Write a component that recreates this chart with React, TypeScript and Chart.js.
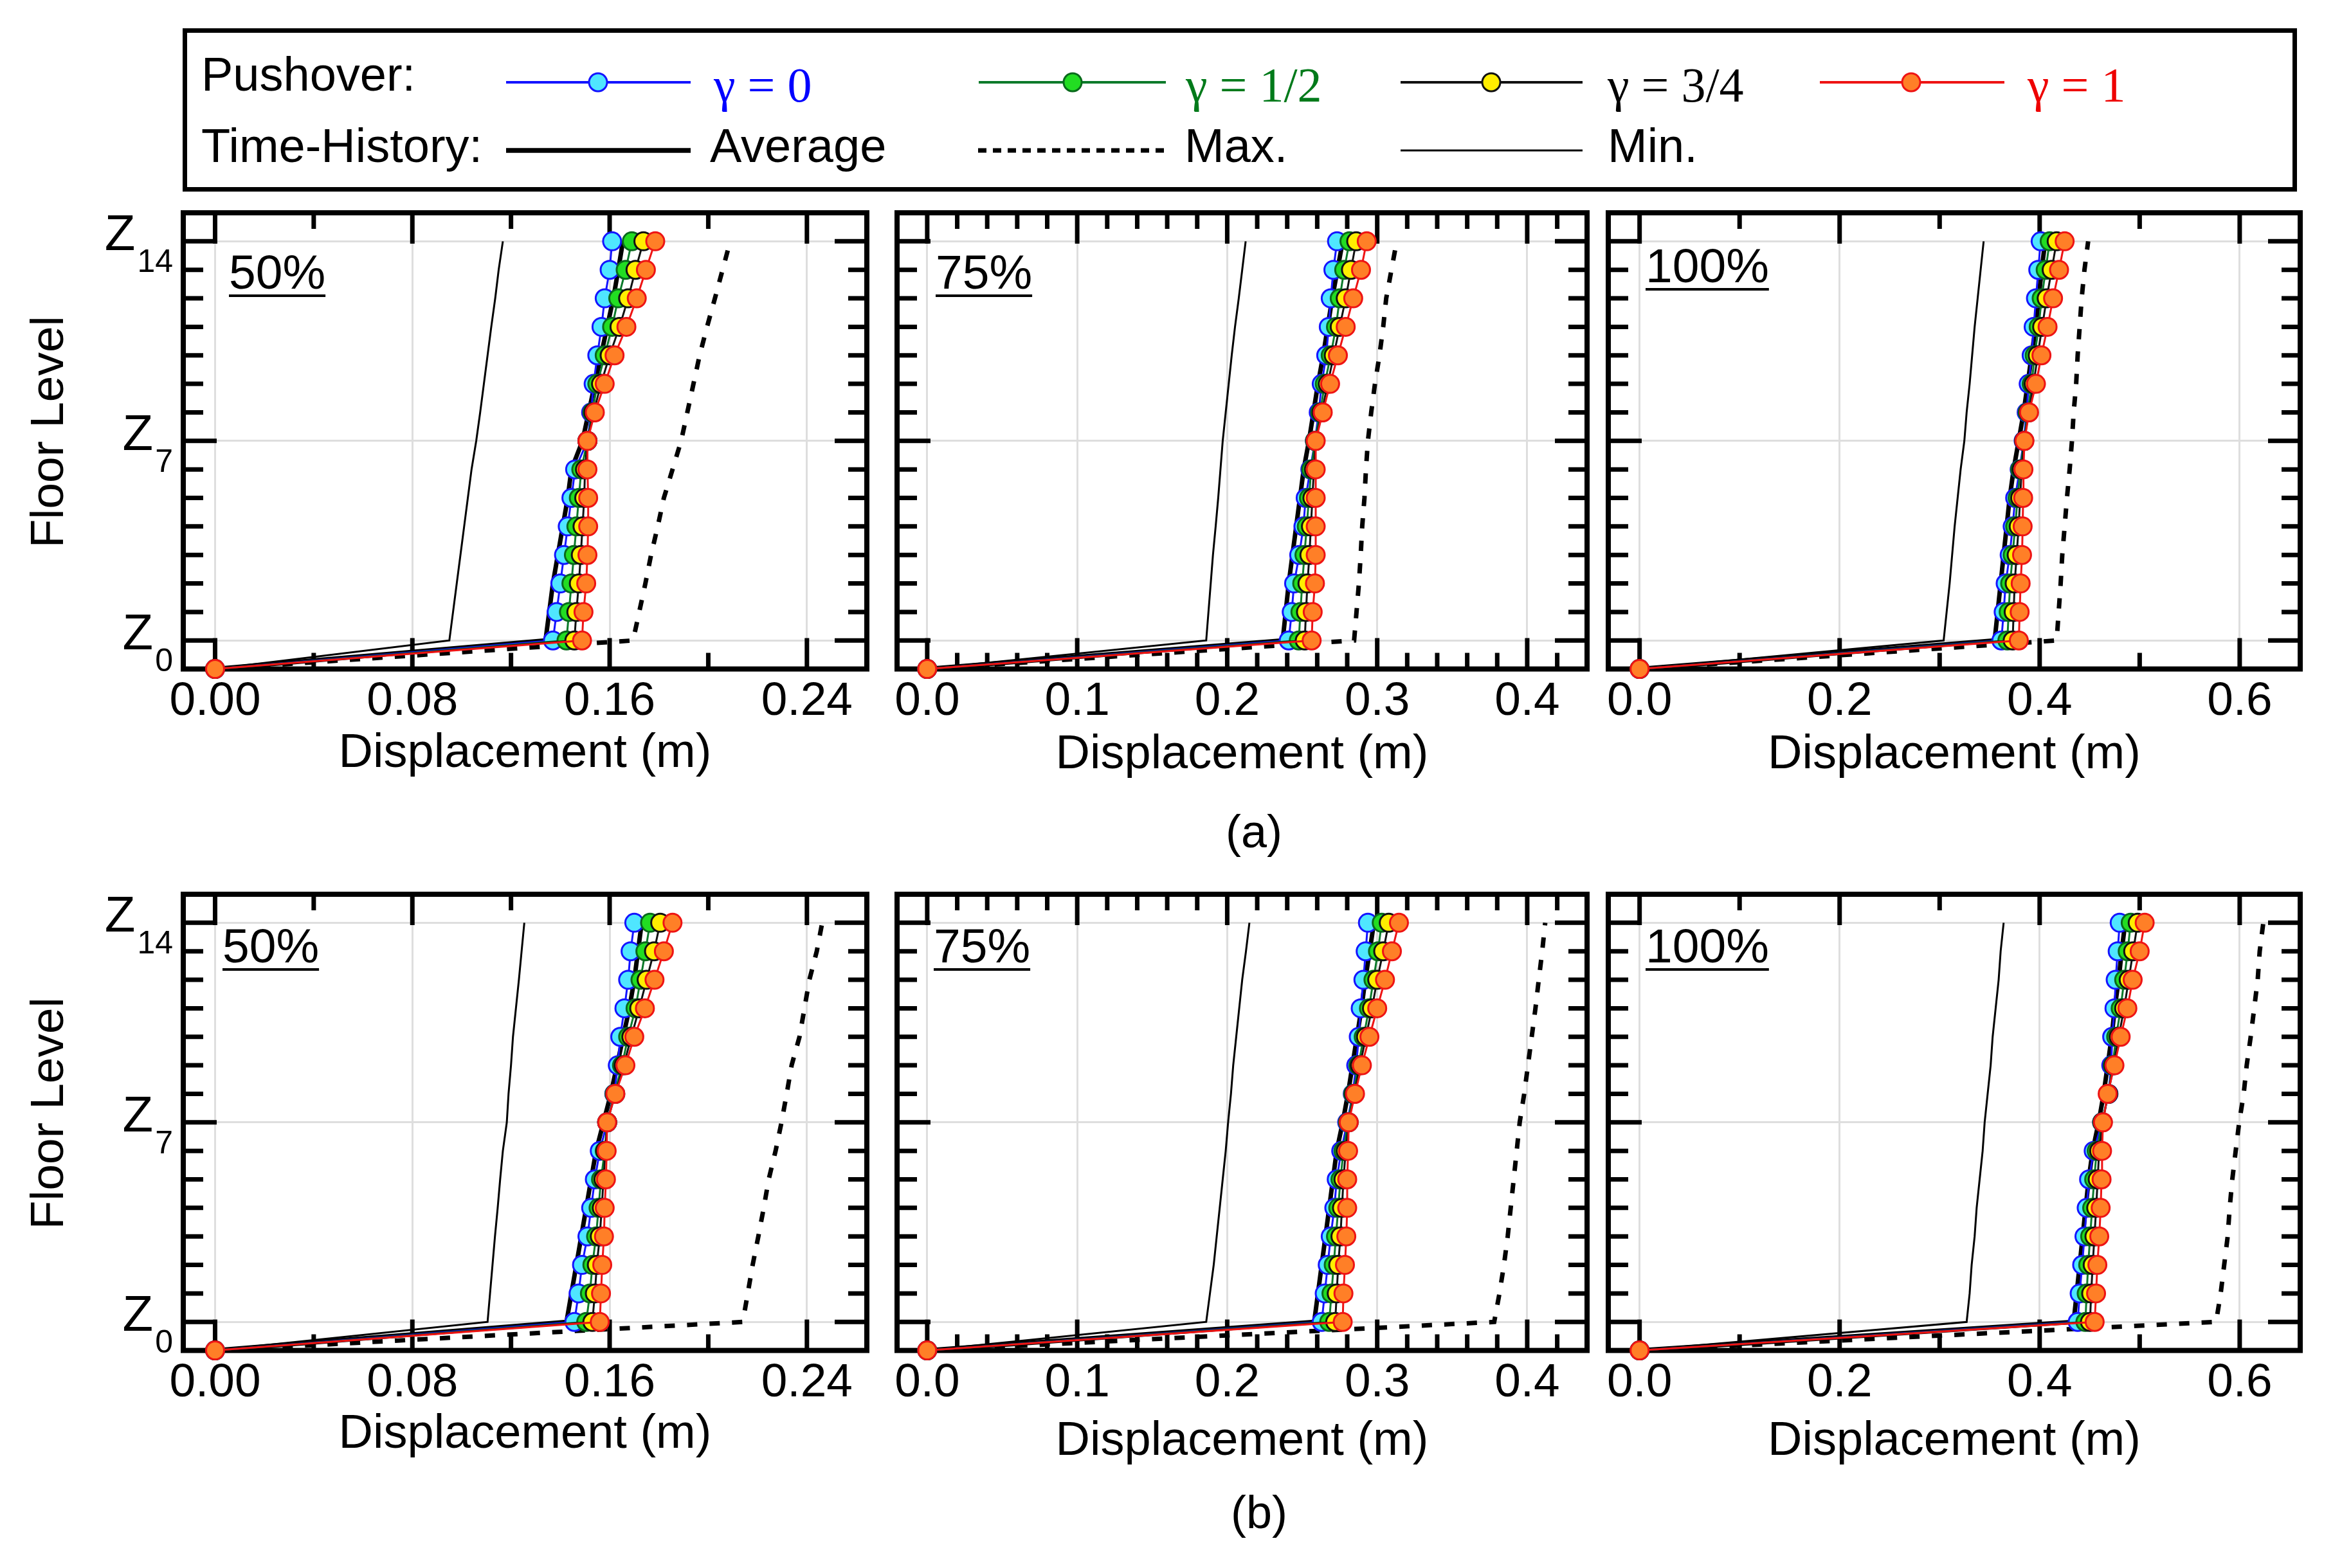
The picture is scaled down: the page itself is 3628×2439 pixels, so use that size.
import React, { useEffect, useRef } from "react";
import { Chart, registerables } from "chart.js";

Chart.register(...registerables);

const SANS = "'Liberation Sans', Arial, Helvetica, sans-serif";
const SERIF = "'Liberation Serif', 'Times New Roman', serif";

// ---------- axes / categories ----------
const FLOORS = [-1, 0, 1, 2, 3, 4, 5, 6, 7, 8, 9, 10, 11, 12, 13, 14];
const Y_MAJOR = [0, 7, 14];
const Y_SUBS = ["0", "7", "14"];

const X_MAJOR_50 = [0, 0.08, 0.16, 0.24];
const X_LABELS_50 = ["0.00", "0.08", "0.16", "0.24"];
const X_MINOR_50 = [0, 0.04, 0.08, 0.12, 0.16, 0.2, 0.24];
const X_RANGE_50 = [-0.0129, 0.2643];

const X_MAJOR_75 = [0, 0.1, 0.2, 0.3, 0.4];
const X_LABELS_75 = ["0.0", "0.1", "0.2", "0.3", "0.4"];
const X_MINOR_75 = [0, 0.02, 0.04, 0.06, 0.08, 0.1, 0.12, 0.14, 0.16, 0.18, 0.2, 0.22, 0.24, 0.26, 0.28, 0.3, 0.32, 0.34, 0.36, 0.38, 0.4, 0.42];
const X_RANGE_75 = [-0.0201, 0.4399];

const X_MAJOR_100 = [0, 0.2, 0.4, 0.6];
const X_LABELS_100 = ["0.0", "0.2", "0.4", "0.6"];
const X_MINOR_100 = [0, 0.1, 0.2, 0.3, 0.4, 0.5, 0.6];
const X_RANGE_100 = [-0.0313, 0.6605];

// ---------- (a) 50% ----------
const A50_MIN = [0, 0.095, 0.0965, 0.098, 0.0995, 0.101, 0.1025, 0.104, 0.1059, 0.1075, 0.109, 0.1105, 0.112, 0.1136, 0.115, 0.1167];
const A50_MAX = [0, 0.1695, 0.172, 0.1745, 0.1768, 0.1795, 0.182, 0.1855, 0.189, 0.1915, 0.194, 0.1965, 0.1995, 0.2027, 0.2058, 0.2089];
const A50_AVG = [0, 0.134, 0.1355, 0.137, 0.139, 0.141, 0.143, 0.1445, 0.149, 0.1515, 0.154, 0.1565, 0.159, 0.1615, 0.1635, 0.1654];
const A50_G0 = [0, 0.137, 0.1385, 0.14, 0.1415, 0.143, 0.1445, 0.146, 0.151, 0.1525, 0.1535, 0.155, 0.1567, 0.158, 0.16, 0.161];
const A50_G12 = [0, 0.1425, 0.1435, 0.1445, 0.1455, 0.1465, 0.1475, 0.1485, 0.151, 0.153, 0.155, 0.158, 0.161, 0.1635, 0.1665, 0.169];
const A50_G34 = [0, 0.1457, 0.1465, 0.1475, 0.1483, 0.149, 0.1497, 0.15, 0.151, 0.1535, 0.1565, 0.16, 0.164, 0.1675, 0.1705, 0.1737];
const A50_G1 = [0, 0.1488, 0.1494, 0.1505, 0.151, 0.1513, 0.1513, 0.151, 0.151, 0.154, 0.158, 0.162, 0.1668, 0.171, 0.1747, 0.1785];

// ---------- (a) 75% ----------
const A75_MIN = [0, 0.186, 0.1875, 0.189, 0.1905, 0.1923, 0.194, 0.1955, 0.197, 0.199, 0.201, 0.203, 0.2052, 0.2077, 0.21, 0.2123];
const A75_MAX = [0, 0.2846, 0.2862, 0.2878, 0.289, 0.29, 0.2915, 0.2925, 0.2938, 0.296, 0.2985, 0.3015, 0.304, 0.306, 0.3095, 0.313];
const A75_AVG = [0, 0.237, 0.239, 0.241, 0.2435, 0.246, 0.2485, 0.251, 0.2545, 0.2575, 0.2605, 0.264, 0.267, 0.27, 0.2735, 0.277];
const A75_G0 = [0, 0.241, 0.243, 0.2446, 0.248, 0.2508, 0.2523, 0.2554, 0.2585, 0.261, 0.263, 0.266, 0.2677, 0.269, 0.2708, 0.2732];
const A75_G12 = [0, 0.2477, 0.2488, 0.25, 0.2515, 0.253, 0.2545, 0.256, 0.2585, 0.262, 0.265, 0.269, 0.2725, 0.275, 0.278, 0.2815];
const A75_G34 = [0, 0.2517, 0.2525, 0.2535, 0.2548, 0.2558, 0.2568, 0.2578, 0.2588, 0.263, 0.267, 0.271, 0.275, 0.279, 0.2825, 0.286];
const A75_G1 = [0, 0.2563, 0.257, 0.2585, 0.259, 0.259, 0.259, 0.259, 0.259, 0.2637, 0.2686, 0.2738, 0.279, 0.284, 0.2892, 0.293];

// ---------- (a) 100% ----------
const A100_MIN = [0, 0.304, 0.307, 0.31, 0.3125, 0.315, 0.318, 0.321, 0.3247, 0.327, 0.33, 0.3325, 0.335, 0.338, 0.341, 0.344];
const A100_MAX = [0, 0.417, 0.419, 0.421, 0.4226, 0.425, 0.4273, 0.43, 0.4323, 0.434, 0.4365, 0.438, 0.44, 0.442, 0.4448, 0.4485];
const A100_AVG = [0, 0.355, 0.358, 0.361, 0.364, 0.367, 0.37, 0.374, 0.379, 0.384, 0.388, 0.392, 0.396, 0.399, 0.402, 0.4055];
const A100_G0 = [0, 0.3617, 0.364, 0.366, 0.37, 0.373, 0.3755, 0.38, 0.384, 0.387, 0.389, 0.392, 0.394, 0.3963, 0.3986, 0.401];
const A100_G12 = [0, 0.3677, 0.369, 0.3705, 0.373, 0.3755, 0.378, 0.3805, 0.3845, 0.388, 0.392, 0.395, 0.399, 0.402, 0.406, 0.41];
const A100_G34 = [0, 0.373, 0.374, 0.375, 0.377, 0.379, 0.3805, 0.382, 0.3845, 0.389, 0.394, 0.398, 0.4025, 0.407, 0.412, 0.417];
const A100_G1 = [0, 0.3792, 0.38, 0.381, 0.3824, 0.383, 0.3835, 0.3838, 0.3848, 0.3894, 0.3963, 0.4018, 0.4079, 0.4134, 0.4194, 0.425];

// ---------- (b) 50% ----------
const B50_MIN = [0, 0.1105, 0.1115, 0.1125, 0.1135, 0.1146, 0.1156, 0.1167, 0.1183, 0.119, 0.12, 0.1208, 0.122, 0.1232, 0.1243, 0.1254];
const B50_MAX = [0, 0.214, 0.216, 0.218, 0.2203, 0.2225, 0.2245, 0.2273, 0.2297, 0.2318, 0.2338, 0.237, 0.239, 0.241, 0.244, 0.2462];
const B50_AVG = [0, 0.1425, 0.1445, 0.1465, 0.1485, 0.1505, 0.1525, 0.1545, 0.1575, 0.1605, 0.163, 0.1655, 0.168, 0.17, 0.1715, 0.173];
const B50_G0 = [0, 0.1457, 0.1474, 0.1488, 0.151, 0.1525, 0.154, 0.156, 0.159, 0.1619, 0.1633, 0.1643, 0.166, 0.1675, 0.1685, 0.17];
const B50_G12 = [0, 0.1505, 0.152, 0.153, 0.1545, 0.1555, 0.1565, 0.158, 0.159, 0.162, 0.165, 0.1675, 0.1705, 0.1725, 0.1745, 0.1764];
const B50_G34 = [0, 0.153, 0.154, 0.1548, 0.156, 0.1568, 0.1575, 0.1583, 0.159, 0.1623, 0.1657, 0.1688, 0.172, 0.175, 0.178, 0.1805];
const B50_G1 = [0, 0.156, 0.1565, 0.157, 0.1577, 0.158, 0.1585, 0.1588, 0.159, 0.1623, 0.1664, 0.17, 0.1743, 0.1782, 0.182, 0.1855];

// ---------- (b) 75% ----------
const B75_MIN = [0, 0.186, 0.1885, 0.191, 0.193, 0.195, 0.197, 0.199, 0.2006, 0.2025, 0.204, 0.206, 0.208, 0.21, 0.2125, 0.2148];
const B75_MAX = [0, 0.378, 0.3815, 0.3845, 0.387, 0.389, 0.391, 0.393, 0.395, 0.398, 0.4005, 0.403, 0.4055, 0.4077, 0.41, 0.412];
const B75_AVG = [0, 0.258, 0.2605, 0.263, 0.2655, 0.268, 0.2705, 0.273, 0.277, 0.2805, 0.2835, 0.2865, 0.2895, 0.292, 0.295, 0.2978];
const B75_G0 = [0, 0.263, 0.265, 0.267, 0.269, 0.2714, 0.273, 0.276, 0.28, 0.2837, 0.286, 0.2877, 0.289, 0.2908, 0.2923, 0.2938];
const B75_G12 = [0, 0.268, 0.2695, 0.271, 0.2725, 0.274, 0.2755, 0.2775, 0.2805, 0.284, 0.2875, 0.291, 0.2945, 0.2975, 0.3005, 0.303];
const B75_G34 = [0, 0.272, 0.273, 0.274, 0.2755, 0.2765, 0.2775, 0.279, 0.281, 0.2847, 0.2885, 0.2925, 0.2965, 0.3, 0.304, 0.3077];
const B75_G1 = [0, 0.277, 0.2775, 0.2785, 0.2794, 0.28, 0.28, 0.2806, 0.281, 0.2852, 0.2898, 0.2948, 0.3, 0.3052, 0.3098, 0.3145];

// ---------- (b) 100% ----------
const B100_MIN = [0, 0.327, 0.33, 0.332, 0.335, 0.337, 0.34, 0.343, 0.345, 0.348, 0.351, 0.353, 0.356, 0.359, 0.361, 0.364];
const B100_MAX = [0, 0.5764, 0.581, 0.5845, 0.588, 0.59, 0.5926, 0.596, 0.5995, 0.604, 0.607, 0.611, 0.6145, 0.618, 0.62, 0.6236];
const B100_AVG = [0, 0.434, 0.437, 0.44, 0.443, 0.446, 0.449, 0.453, 0.459, 0.464, 0.468, 0.472, 0.475, 0.479, 0.482, 0.4855];
const B100_G0 = [0, 0.438, 0.44, 0.4425, 0.4448, 0.447, 0.4494, 0.454, 0.4624, 0.4688, 0.4716, 0.4725, 0.4748, 0.476, 0.478, 0.48];
const B100_G12 = [0, 0.4457, 0.447, 0.4485, 0.4505, 0.4525, 0.4545, 0.457, 0.4625, 0.4685, 0.473, 0.4765, 0.481, 0.4845, 0.488, 0.491];
const B100_G34 = [0, 0.4503, 0.4515, 0.453, 0.4548, 0.4565, 0.458, 0.4595, 0.463, 0.4685, 0.474, 0.479, 0.4845, 0.489, 0.4935, 0.498];
const B100_G1 = [0, 0.455, 0.4564, 0.4577, 0.4596, 0.461, 0.4619, 0.4624, 0.4633, 0.468, 0.4748, 0.481, 0.4877, 0.493, 0.5, 0.505];

// ---------- styles ----------
const C_BLUE = "#1414ff";
const C_CYAN = "#4fe6ff";
const C_GREEN_LINE = "#0b7a2b";
const C_GREEN_EDGE = "#0a6a1c";
const C_LIME = "#22dd22";
const C_BLACK = "#111111";
const C_YELLOW = "#ffee00";
const C_RED = "#ee1414";
const C_ORANGE = "#ff7f27";
const GRID = "#dedede";

const COLS = [
  { areaL: 285, areaR: 1348, padL: 285, padR: 30 },
  { areaL: 1395, areaR: 2468, padL: 30, padR: 30 },
  { areaL: 2501, areaR: 3577, padL: 30, padR: 30 },
];
const ROWS = [
  { areaT: 331, areaB: 1041 },
  { areaT: 1391, areaB: 2101 },
];
const PAD_T = 30;

type Axis = { major: number[]; labels: string[]; minor: number[]; range: number[] };
const AX50: Axis = { major: X_MAJOR_50, labels: X_LABELS_50, minor: X_MINOR_50, range: X_RANGE_50 };
const AX75: Axis = { major: X_MAJOR_75, labels: X_LABELS_75, minor: X_MINOR_75, range: X_RANGE_75 };
const AX100: Axis = { major: X_MAJOR_100, labels: X_LABELS_100, minor: X_MINOR_100, range: X_RANGE_100 };

const PANELS = [
  { key: "a50", row: 0, col: 0, ax: AX50, pct: "50%", ldx: 71, ldy: 118, tOff: 132, s: [A50_MIN, A50_MAX, A50_AVG, A50_G0, A50_G12, A50_G34, A50_G1] },
  { key: "a75", row: 0, col: 1, ax: AX75, pct: "75%", ldx: 60, ldy: 118, tOff: 134, s: [A75_MIN, A75_MAX, A75_AVG, A75_G0, A75_G12, A75_G34, A75_G1] },
  { key: "a100", row: 0, col: 2, ax: AX100, pct: "100%", ldx: 58, ldy: 108, tOff: 134, s: [A100_MIN, A100_MAX, A100_AVG, A100_G0, A100_G12, A100_G34, A100_G1] },
  { key: "b50", row: 1, col: 0, ax: AX50, pct: "50%", ldx: 61, ldy: 106, tOff: 131, s: [B50_MIN, B50_MAX, B50_AVG, B50_G0, B50_G12, B50_G34, B50_G1] },
  { key: "b75", row: 1, col: 1, ax: AX75, pct: "75%", ldx: 57, ldy: 106, tOff: 142, s: [B75_MIN, B75_MAX, B75_AVG, B75_G0, B75_G12, B75_G34, B75_G1] },
  { key: "b100", row: 1, col: 2, ax: AX100, pct: "100%", ldx: 58, ldy: 106, tOff: 142, s: [B100_MIN, B100_MAX, B100_AVG, B100_G0, B100_G12, B100_G34, B100_G1] },
];

const TITLE_SIZE = 74;
const TICK_SIZE = 73;

function pts(vals: number[]) {
  return vals.map((v, i) => ({ x: v, y: FLOORS[i] }));
}

function pushover(label: string, vals: number[], line: string, fill: string, edge: string, order: number) {
  return {
    label,
    data: pts(vals),
    order,
    borderColor: line,
    borderWidth: 3,
    pointRadius: 14,
    pointHoverRadius: 14,
    pointBackgroundColor: fill,
    pointBorderColor: edge,
    pointBorderWidth: 3,
    tension: 0,
    fill: false,
    clip: false,
  };
}

function thLine(label: string, vals: number[], width: number, dash: number[], order: number) {
  return {
    label,
    data: pts(vals),
    order,
    borderColor: "#000",
    borderWidth: width,
    borderDash: dash,
    borderCapStyle: "butt",
    pointRadius: 0,
    pointHoverRadius: 0,
    tension: 0,
    fill: false,
    clip: false,
  };
}

function makePlugin(p: any) {
  return {
    id: "decor_" + p.key,
    beforeDatasetsDraw(chart: any) {
      const { ctx, chartArea: a, scales } = chart;
      const x = scales.x;
      const y = scales.y;
      ctx.save();
      ctx.strokeStyle = "#000";
      ctx.lineCap = "butt";
      ctx.lineWidth = 7;
      ctx.beginPath();
      for (const v of p.ax.minor) {
        const px = x.getPixelForValue(v);
        const L = p.ax.major.some((m: number) => Math.abs(m - v) < 1e-9) ? 48 : 25;
        ctx.moveTo(px, a.top);
        ctx.lineTo(px, a.top + L);
        ctx.moveTo(px, a.bottom);
        ctx.lineTo(px, a.bottom - L);
      }
      for (const f of FLOORS) {
        if (f < 0) continue;
        const py = y.getPixelForValue(f);
        const major = Y_MAJOR.indexOf(f) >= 0;
        ctx.moveTo(a.left, py);
        ctx.lineTo(a.left + (major ? 52 : 31), py);
        ctx.moveTo(a.right, py);
        ctx.lineTo(a.right - (major ? 50 : 29), py);
      }
      ctx.stroke();
      ctx.lineWidth = 8;
      ctx.strokeRect(a.left, a.top, a.right - a.left, a.bottom - a.top);

      // percentage label with underline
      ctx.fillStyle = "#000";
      ctx.font = `75px ${SANS}`;
      ctx.textAlign = "left";
      ctx.textBaseline = "alphabetic";
      const lx = a.left + p.ldx;
      const ly = a.top + p.ldy;
      ctx.fillText(p.pct, lx, ly);
      const w = ctx.measureText(p.pct).width;
      ctx.fillRect(lx, ly + 9, w, 4);
      ctx.restore();
    },
    afterDraw(chart: any) {
      if (p.col !== 0) return;
      const { ctx, chartArea: a, scales } = chart;
      const y = scales.y;
      ctx.save();
      ctx.fillStyle = "#000";
      ctx.textBaseline = "alphabetic";
      ctx.textAlign = "left";
      Y_MAJOR.forEach((f, i) => {
        const py = y.getPixelForValue(f);
        ctx.font = `78px ${SANS}`;
        const zw = ctx.measureText("Z").width;
        ctx.font = `50px ${SANS}`;
        const sw = ctx.measureText(Y_SUBS[i]).width;
        const right = a.left - 16;
        const zx = right - sw - 3 - zw;
        ctx.font = `78px ${SANS}`;
        ctx.fillText("Z", zx, py + 14);
        ctx.font = `50px ${SANS}`;
        ctx.fillText(Y_SUBS[i], zx + zw + 3, py + 48);
      });
      ctx.translate(78, (a.top + a.bottom) / 2 - 14);
      ctx.rotate(-Math.PI / 2);
      ctx.font = `73px ${SANS}`;
      ctx.textAlign = "center";
      ctx.textBaseline = "middle";
      ctx.fillText("Floor Level", 0, 0);
      ctx.restore();
    },
  };
}

function Panel({ p }: { p: any }) {
  const ref = useRef<HTMLCanvasElement>(null);
  const col = COLS[p.col];
  const row = ROWS[p.row];
  const axisH = p.tOff + (TITLE_SIZE * 1.2) / 2;
  const width = col.areaR - col.areaL + col.padL + col.padR;
  const height = PAD_T + (row.areaB - row.areaT) + axisH;
  const left = col.areaL - col.padL;
  const top = row.areaT - PAD_T;

  useEffect(() => {
    const [mn, mx, avg, g0, g12, g34, g1] = p.s;
    const chart = new Chart(ref.current as HTMLCanvasElement, {
      type: "line",
      data: {
        datasets: [
          pushover("γ = 1", g1, C_RED, C_ORANGE, C_RED, 0),
          pushover("γ = 3/4", g34, C_BLACK, C_YELLOW, C_BLACK, 1),
          pushover("γ = 1/2", g12, C_GREEN_LINE, C_LIME, C_GREEN_EDGE, 2),
          pushover("γ = 0", g0, C_BLUE, C_CYAN, C_BLUE, 3),
          thLine("Average", avg, 7, [], 4),
          thLine("Max.", mx, 7, [16, 19], 5),
          thLine("Min.", mn, 3, [], 6),
        ] as any,
      },
      options: {
        animation: false,
        responsive: false,
        devicePixelRatio: 1,
        indexAxis: "y",
        events: [],
        layout: { padding: { left: col.padL, right: col.padR, top: PAD_T, bottom: 0 } },
        plugins: { legend: { display: false }, tooltip: { enabled: false }, title: { display: false } },
        scales: {
          x: {
            type: "linear",
            position: "bottom",
            min: p.ax.range[0],
            max: p.ax.range[1],
            afterBuildTicks: (s: any) => {
              s.ticks = p.ax.major.map((v: number) => ({ value: v }));
            },
            afterFit: (s: any) => {
              s.height = axisH;
            },
            ticks: {
              callback: (_v: any, i: number) => p.ax.labels[i],
              font: { size: TICK_SIZE, family: SANS },
              color: "#000",
              padding: 7,
              autoSkip: false,
              maxRotation: 0,
              minRotation: 0,
            },
            grid: { color: GRID, lineWidth: 3, drawTicks: false },
            border: { display: false },
            title: {
              display: true,
              text: "Displacement (m)",
              font: { size: TITLE_SIZE, family: SANS },
              color: "#000",
              padding: 0,
            },
          },
          y: {
            type: "linear",
            position: "left",
            min: -1,
            max: 15,
            afterBuildTicks: (s: any) => {
              s.ticks = Y_MAJOR.map((v) => ({ value: v }));
            },
            afterFit: (s: any) => {
              s.width = 0;
            },
            ticks: { display: false },
            grid: { color: GRID, lineWidth: 3, drawTicks: false },
            border: { display: false },
          },
        },
      } as any,
      plugins: [makePlugin(p)],
    });
    return () => chart.destroy();
  }, []);

  return (
    <canvas
      ref={ref}
      width={width}
      height={height}
      style={{ position: "absolute", left, top, width, height }}
    />
  );
}

function Legend() {
  const lineY1 = 128;
  const lineY2 = 234;
  const push = [
    { x1: 787, x2: 1074, m: 930, line: C_BLUE, fill: C_CYAN, edge: C_BLUE, tx: 1110, text: "γ = 0", color: "#0000ff" },
    { x1: 1522, x2: 1813, m: 1668, line: C_GREEN_LINE, fill: C_LIME, edge: C_GREEN_EDGE, tx: 1844, text: "γ = 1/2", color: "#007a1a" },
    { x1: 2178, x2: 2461, m: 2319, line: C_BLACK, fill: C_YELLOW, edge: C_BLACK, tx: 2500, text: "γ = 3/4", color: "#000" },
    { x1: 2830, x2: 3117, m: 2972, line: C_RED, fill: C_ORANGE, edge: C_RED, tx: 3153, text: "γ = 1", color: "#ee0000" },
  ];
  return (
    <svg
      width={3628}
      height={2439}
      style={{ position: "absolute", left: 0, top: 0, pointerEvents: "none" }}
    >
      <rect x={287.5} y={47.5} width={3281} height={247} fill="none" stroke="#000" strokeWidth={7} />
      <text x={313} y={141} fontFamily={SANS} fontSize={74} fill="#000">Pushover:</text>
      <text x={313} y={252} fontFamily={SANS} fontSize={74} fill="#000">Time-History:</text>
      {push.map((s) => (
        <g key={s.text}>
          <line x1={s.x1} y1={lineY1} x2={s.x2} y2={lineY1} stroke={s.line} strokeWidth={4} />
          <circle cx={s.m} cy={lineY1} r={14} fill={s.fill} stroke={s.edge} strokeWidth={3} />
          <text x={s.tx} y={158} fontFamily={SERIF} fontSize={76} fill={s.color}>{s.text}</text>
        </g>
      ))}
      <line x1={787} y1={lineY2} x2={1074} y2={lineY2} stroke="#000" strokeWidth={7.5} />
      <text x={1104} y={252} fontFamily={SANS} fontSize={74} fill="#000">Average</text>
      <line x1={1521} y1={lineY2} x2={1813} y2={lineY2} stroke="#000" strokeWidth={7} strokeDasharray="13 10" />
      <text x={1842} y={252} fontFamily={SANS} fontSize={74} fill="#000">Max.</text>
      <line x1={2178} y1={lineY2} x2={2461} y2={lineY2} stroke="#000" strokeWidth={3} />
      <text x={2500} y={252} fontFamily={SANS} fontSize={74} fill="#000">Min.</text>
      <text x={1950} y={1318} fontFamily={SANS} fontSize={72} fill="#000" textAnchor="middle">(a)</text>
      <text x={1958} y={2377} fontFamily={SANS} fontSize={72} fill="#000" textAnchor="middle">(b)</text>
    </svg>
  );
}

export default function App() {
  return (
    <div
      style={{
        position: "absolute",
        left: 0,
        top: 0,
        width: 3628,
        height: 2439,
        overflow: "hidden",
        background: "#fff",
      }}
    >
      <Legend />
      {PANELS.map((p) => (
        <Panel key={p.key} p={p} />
      ))}
    </div>
  );
}
